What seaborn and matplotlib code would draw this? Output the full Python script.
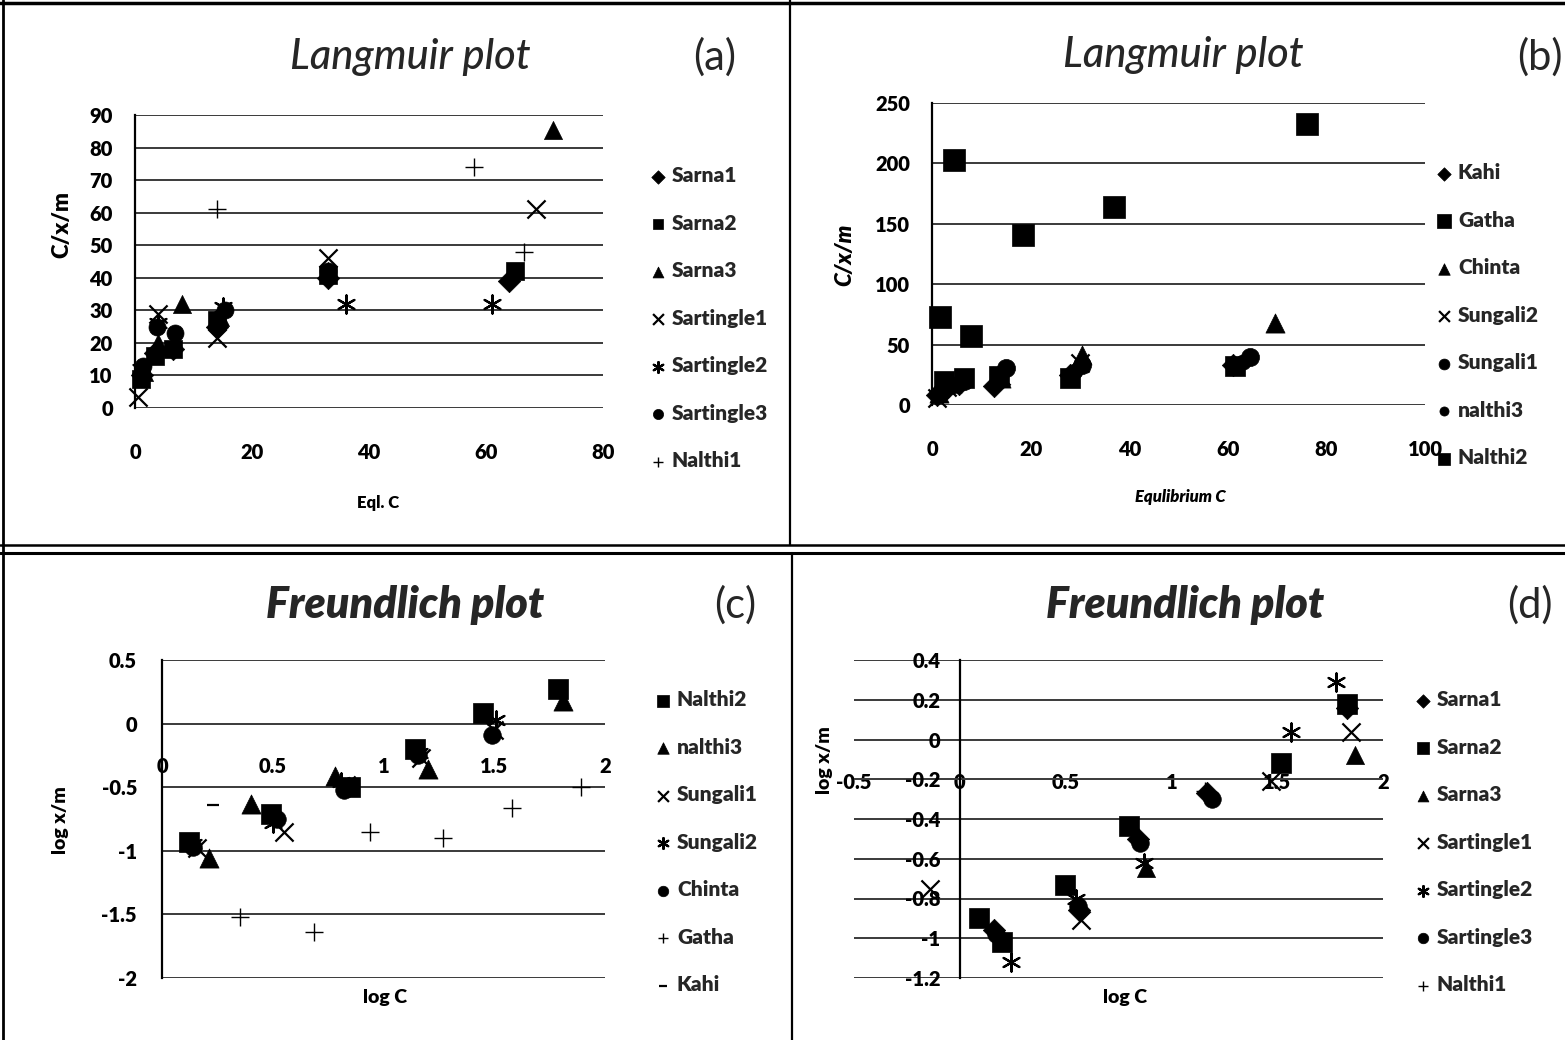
import matplotlib
matplotlib.use("Agg")
import matplotlib.pyplot as plt
import seaborn as sns
from matplotlib.lines import Line2D
from matplotlib.ticker import FixedLocator, FuncFormatter

# ---------------- data ----------------
# Panel (a) Langmuir plot
a_names = ["Sarna1", "Sarna2", "Sarna3", "Sartingle1", "Sartingle2", "Sartingle3", "Nalthi1"]
a_sarna1_x = [1.2, 3.5, 6.5, 14, 33, 64]
a_sarna1_y = [10, 17, 18, 25, 40, 39]
a_sarna2_x = [1, 3.5, 6.5, 14, 33, 65]
a_sarna2_y = [9, 16, 18, 27, 41, 42]
a_sarna3_x = [1.5, 4, 8, 14.5, 33, 71.5]
a_sarna3_y = [11, 20, 32, 28, 42, 85.5]
a_sart1_x = [0.5, 4, 14, 33, 68.5]
a_sart1_y = [3.5, 29, 21.5, 46, 61]
a_sart2_x = [1, 4, 15, 36, 61]
a_sart2_y = [12, 26, 31, 32, 32]
a_sart3_x = [1.4, 3.7, 6.8, 15.3, 33]
a_sart3_y = [13, 25, 23, 30, 42]
a_nal1_x = [14, 58, 66.5]
a_nal1_y = [61, 74, 48]
a_xticks = [0, 20, 40, 60, 80]
a_yticks = [0, 10, 20, 30, 40, 50, 60, 70, 80, 90]

# Panel (b) Langmuir plot
b_names = ["Kahi", "Gatha", "Chinta", "Sungali2", "Sungali1", "nalthi3", "Nalthi2"]
b_kahi_x = [1, 3, 5.5, 12.5, 28, 61]
b_kahi_y = [8, 14, 17, 16, 25, 33]
b_gatha_x = [1.6, 4.5, 8, 18.5, 37, 76]
b_gatha_y = [73, 203, 57, 141, 164, 233]
b_chinta_x = [1.5, 4, 14, 30.5, 69.5]
b_chinta_y = [10, 18, 22, 41, 68]
b_sung2_x = [1, 3, 14, 30]
b_sung2_y = [6, 15, 24, 35]
b_sung1_x = [2, 6.5, 15, 30.5, 64.5]
b_sung1_y = [12, 20, 31, 33, 40]
b_nal3_x = [1, 4, 13.5, 29, 63]
b_nal3_y = [9, 16, 20, 28, 36]
b_nal2_x = [2.5, 6.5, 13.5, 28, 61.5]
b_nal2_y = [20, 22, 24, 22, 32]
b_xticks = [0, 20, 40, 60, 80, 100]
b_yticks = [0, 50, 100, 150, 200, 250]

# Panel (c) Freundlich plot
c_names = ["Nalthi2", "nalthi3", "Sungali1", "Sungali2", "Chinta", "Gatha", "Kahi"]
c_nal2_x = [0.12, 0.49, 0.85, 1.14, 1.45, 1.79]
c_nal2_y = [-0.93, -0.71, -0.50, -0.20, 0.08, 0.27]
c_nal3_x = [0.21, 0.40, 0.78, 1.20, 1.81]
c_nal3_y = [-1.06, -0.63, -0.41, -0.36, 0.18]
c_sung1_x = [0.16, 0.55, 0.83, 1.17, 1.50]
c_sung1_y = [-0.98, -0.85, -0.48, -0.27, -0.05]
c_sung2_x = [0.14, 0.50, 0.81, 1.16, 1.51]
c_sung2_y = [-0.95, -0.78, -0.46, -0.23, 0.03]
c_chinta_x = [0.14, 0.52, 0.82, 1.155, 1.49]
c_chinta_y = [-0.97, -0.75, -0.52, -0.25, -0.09]
c_gatha_x = [0.35, 0.685, 0.94, 1.27, 1.58, 1.89]
c_gatha_y = [-1.52, -1.64, -0.85, -0.90, -0.66, -0.50]
c_kahi_x = [0.23]
c_kahi_y = [-0.64]
c_xticks = [0, 0.5, 1, 1.5, 2]
c_yticks = [-2, -1.5, -1, -0.5, 0, 0.5]

# Panel (d) Freundlich plot
d_names = ["Sarna1", "Sarna2", "Sarna3", "Sartingle1", "Sartingle2", "Sartingle3", "Nalthi1"]
d_sarna1_x = [0.16, 0.565, 0.84, 1.17, 1.83]
d_sarna1_y = [-0.96, -0.86, -0.50, -0.27, 0.16]
d_sarna2_x = [0.09, 0.20, 0.495, 0.80, 1.52, 1.83]
d_sarna2_y = [-0.90, -1.02, -0.73, -0.435, -0.12, 0.18]
d_sarna3_x = [0.88, 1.87]
d_sarna3_y = [-0.645, -0.08]
d_sart1_x = [-0.14, 0.575, 1.47, 1.85]
d_sart1_y = [-0.75, -0.91, -0.21, 0.04]
d_sart2_x = [0.24, 0.55, 0.87, 1.565, 1.78]
d_sart2_y = [-1.12, -0.80, -0.62, 0.04, 0.29]
d_sart3_x = [0.17, 0.56, 0.85, 1.19, 1.83]
d_sart3_y = [-0.98, -0.84, -0.52, -0.30, 0.17]
d_nal1_x = [1.16]
d_nal1_y = [-0.26]
d_xticks = [-0.5, 0, 0.5, 1, 1.5, 2]
d_yticks = [-1.2, -1, -0.8, -0.6, -0.4, -0.2, 0, 0.2, 0.4]

# ---------------- style ----------------
sns.set_theme(style="white")
plt.rcParams["font.family"] = ["Lato", "DejaVu Sans"]
plt.rcParams["font.weight"] = "heavy"
plt.rcParams["axes.unicode_minus"] = False

W, H = 1565, 1040
fig = plt.figure(figsize=(W / 100, H / 100), dpi=100)
fig.patch.set_facecolor("white")


def add_ax(l, t, r, b):
    return fig.add_axes([l / W, 1 - b / H, (r - l) / W, (b - t) / H])


FILLED = ("D", "s", "^", "o")


def series(ax, xs, ys, name, mk, size, lw=1.6):
    kw = dict(marker=mk, s=size, color="black", ax=ax, label=name, clip_on=False, zorder=3)
    if mk in FILLED:
        kw.update(edgecolor="black", linewidth=0.5)
    else:
        kw.update(linewidth=lw)
    sns.scatterplot(x=xs, y=ys, **kw)


def fmt(v, pos=None):
    return "%g" % v


def style_axes(ax, xlim, ylim, xticks, yticks, xpad, ypad, gridcolor="#3a3a3a"):
    ax.set_xlim(*xlim)
    ax.set_ylim(*ylim)
    ax.xaxis.set_major_locator(FixedLocator(xticks))
    ax.yaxis.set_major_locator(FixedLocator(yticks))
    ax.xaxis.set_major_formatter(FuncFormatter(fmt))
    ax.yaxis.set_major_formatter(FuncFormatter(fmt))
    ax.set_facecolor("none")
    for s in ["top", "right", "bottom"]:
        ax.spines[s].set_visible(False)
    ax.spines["left"].set_color("black")
    ax.spines["left"].set_linewidth(1.6)
    ax.grid(axis="y", color=gridcolor, linewidth=1.4)
    ax.grid(axis="x", visible=False)
    ax.set_axisbelow(True)
    ax.tick_params(axis="x", length=0, pad=xpad, labelsize=14.5, colors="black")
    ax.tick_params(axis="y", length=0, pad=ypad, labelsize=14.5, colors="black")


def legend(ax, x, y):
    ax.legend(loc="upper left", bbox_to_anchor=(x / W, 1 - y / H), bbox_transform=fig.transFigure,
              frameon=False, prop={"weight": "heavy", "size": 15}, labelspacing=1.37,
              handletextpad=0.15, handlelength=1.0, markerscale=0.6, borderpad=0, borderaxespad=0)


# ---------------- panel (a) ----------------
ax_a = add_ax(135, 115, 603, 408)
series(ax_a, a_sarna1_x, a_sarna1_y, a_names[0], "D", 130)
series(ax_a, a_sarna2_x, a_sarna2_y, a_names[1], "s", 170)
series(ax_a, a_sarna3_x, a_sarna3_y, a_names[2], "^", 170)
series(ax_a, a_sart1_x, a_sart1_y, a_names[3], "x", 170)
series(ax_a, a_sart2_x, a_sart2_y, a_names[4], (6, 2, 0), 170)
series(ax_a, a_sart3_x, a_sart3_y, a_names[5], "o", 150)
series(ax_a, a_nal1_x, a_nal1_y, a_names[6], "+", 150, lw=1.0)
style_axes(ax_a, (0, 80), (0, 90), a_xticks, a_yticks, 25, 16)
ax_a.set_xlabel("Eql. C", fontsize=12, fontweight="heavy", color="black")
ax_a.set_ylabel("C/x/m", fontsize=16, fontweight="heavy", color="black")
ax_a.xaxis.set_label_coords(0.519, -0.324)
ax_a.yaxis.set_label_coords(-0.156, 0.625)
ax_a.xaxis.label.set_va("center")
ax_a.yaxis.label.set_va("center")
legend(ax_a, 648, 166)

# ---------------- panel (b) ----------------
ax_b = add_ax(932, 103, 1425, 405)
series(ax_b, b_kahi_x, b_kahi_y, b_names[0], "D", 130)
series(ax_b, b_gatha_x, b_gatha_y, b_names[1], "s", 260)
series(ax_b, b_chinta_x, b_chinta_y, b_names[2], "^", 190)
series(ax_b, b_sung2_x, b_sung2_y, b_names[3], "x", 170)
series(ax_b, b_sung1_x, b_sung1_y, b_names[4], "o", 170)
series(ax_b, b_nal3_x, b_nal3_y, b_names[5], "o", 120)
series(ax_b, b_nal2_x, b_nal2_y, b_names[6], "s", 220)
style_axes(ax_b, (0, 100), (0, 250), b_xticks, b_yticks, 25, 16)
ax_b.set_xlabel("Equlibrium C", fontsize=12, fontweight="heavy", fontstyle="italic", color="black")
ax_b.set_ylabel("C/x/m", fontsize=16, fontweight="heavy", fontstyle="italic", color="black")
ax_b.xaxis.set_label_coords(0.503, -0.305)
ax_b.yaxis.set_label_coords(-0.176, 0.497)
ax_b.xaxis.label.set_va("center")
ax_b.yaxis.label.set_va("center")
legend(ax_b, 1434, 163)

# ---------------- panel (c) ----------------
ax_c = add_ax(162, 660, 605, 978)
series(ax_c, c_nal2_x, c_nal2_y, c_names[0], "s", 200)
series(ax_c, c_nal3_x, c_nal3_y, c_names[1], "^", 190)
series(ax_c, c_sung1_x, c_sung1_y, c_names[2], "x", 170)
series(ax_c, c_sung2_x, c_sung2_y, c_names[3], (6, 2, 0), 170)
series(ax_c, c_chinta_x, c_chinta_y, c_names[4], "o", 160)
series(ax_c, c_gatha_x, c_gatha_y, c_names[5], "+", 150, lw=1.0)
series(ax_c, c_kahi_x, c_kahi_y, c_names[6], "_", 80, lw=1.6)
style_axes(ax_c, (0, 2), (-2, 0.5), c_xticks, c_yticks, 24, 18)
ax_c.spines["bottom"].set_position(("data", 0))
ax_c.set_xlabel("log C", fontsize=14, fontweight="heavy", color="black")
ax_c.set_ylabel("log x/m", fontsize=14, fontweight="heavy", color="black")
ax_c.xaxis.set_label_coords(0.503, -0.06)
ax_c.yaxis.set_label_coords(-0.23, 0.497)
ax_c.xaxis.label.set_va("center")
ax_c.yaxis.label.set_va("center")
legend(ax_c, 653, 690)

# ---------------- panel (d) ----------------
ax_d = add_ax(854, 660, 1383, 978)
series(ax_d, d_sarna1_x, d_sarna1_y, d_names[0], "D", 130)
series(ax_d, d_sarna2_x, d_sarna2_y, d_names[1], "s", 190)
series(ax_d, d_sarna3_x, d_sarna3_y, d_names[2], "^", 170)
series(ax_d, d_sart1_x, d_sart1_y, d_names[3], "x", 170)
series(ax_d, d_sart2_x, d_sart2_y, d_names[4], (6, 2, 0), 170)
series(ax_d, d_sart3_x, d_sart3_y, d_names[5], "o", 160)
series(ax_d, d_nal1_x, d_nal1_y, d_names[6], "+", 150, lw=1.0)
style_axes(ax_d, (-0.5, 2), (-1.2, 0.4), d_xticks, d_yticks, 24, 14)
ax_d.spines["left"].set_position(("data", 0))
ax_d.spines["bottom"].set_position(("data", 0))
ax_d.set_xlabel("log C", fontsize=14, fontweight="heavy", color="black")
ax_d.set_ylabel("log x/m", fontsize=14, fontweight="heavy", color="black")
ax_d.xaxis.set_label_coords(0.512, -0.06)
ax_d.yaxis.set_label_coords(-0.055, 0.686)
ax_d.xaxis.label.set_va("center")
ax_d.yaxis.label.set_va("center")
legend(ax_d, 1413, 690)

# ---------------- titles and panel tags ----------------
fig.text(410 / W, 1 - 57 / H, "Langmuir plot", fontsize=30, fontstyle="italic", fontweight="medium", ha="center", va="center")
fig.text(1183 / W, 1 - 55 / H, "Langmuir plot", fontsize=30, fontstyle="italic", fontweight="medium", ha="center", va="center")
fig.text(405 / W, 1 - 605 / H, "Freundlich plot", fontsize=31, fontstyle="italic", fontweight="heavy", ha="center", va="center")
fig.text(1185 / W, 1 - 605 / H, "Freundlich plot", fontsize=31, fontstyle="italic", fontweight="heavy", ha="center", va="center")
fig.text(715 / W, 1 - 57 / H, "(a)", fontsize=30, fontweight="normal", ha="center", va="center")
fig.text(1540 / W, 1 - 57 / H, "(b)", fontsize=30, fontweight="normal", ha="center", va="center")
fig.text(735 / W, 1 - 605 / H, "(c)", fontsize=30, fontweight="normal", ha="center", va="center")
fig.text(1530 / W, 1 - 605 / H, "(d)", fontsize=30, fontweight="normal", ha="center", va="center")

# ---------------- panel frame lines ----------------
def fline(x0, y0, x1, y1, lw=2.0):
    fig.add_artist(Line2D([x0 / W, x1 / W], [1 - y0 / H, 1 - y1 / H], transform=fig.transFigure,
                          color="black", linewidth=lw))

fline(0, 3, W, 3, 2.5)
fline(3, 0, 3, H, 2.0)
fline(790, 0, 790, 545, 1.6)
fline(792, 553, 792, H, 1.6)
fline(0, 545, W, 545, 1.8)
fline(0, 553, W, 553, 2.2)

fig.savefig("out.png", dpi=100, facecolor="white")
